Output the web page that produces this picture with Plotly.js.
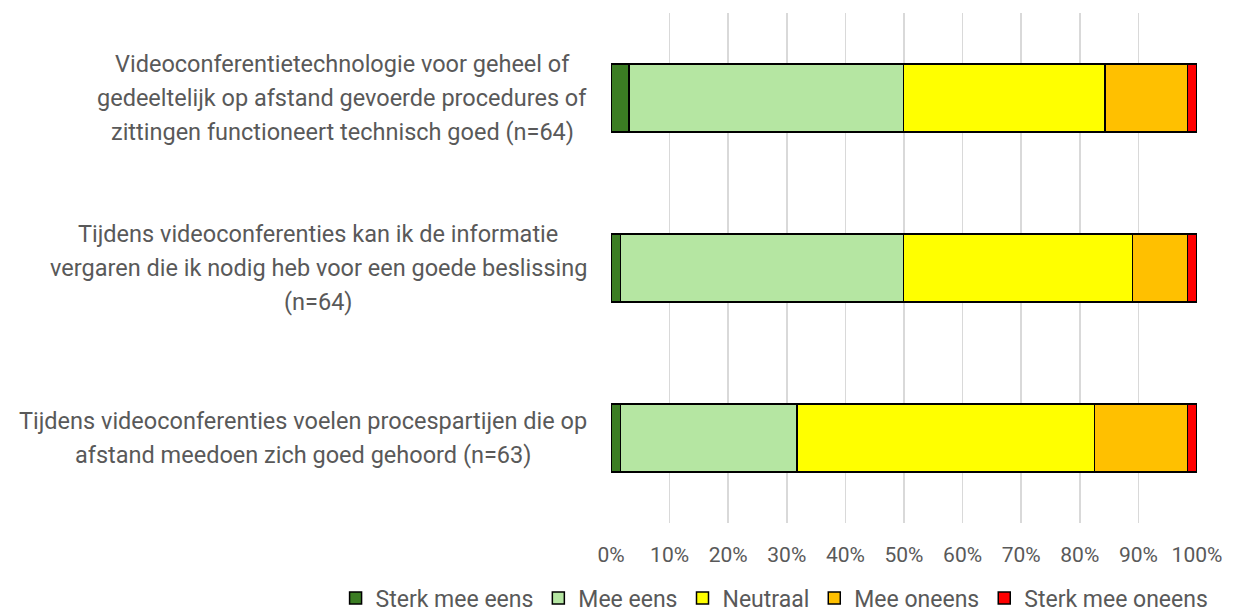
<!DOCTYPE html>
<html>
<head>
<meta charset="utf-8">
<script src="https://cdn.plot.ly/plotly-3.0.1.min.js"></script>
<style>
  html, body { margin: 0; padding: 0; background: #fff; }
  #chart { width: 1236px; height: 613px; }
</style>
</head>
<body>
<div id="chart"></div>
<script>
// statements, top to bottom (lines as in the original)
const statements = [
  ['Videoconferentietechnologie voor geheel of',
   'gedeeltelijk op afstand gevoerde procedures of',
   'zittingen functioneert technisch goed (n=64)'],
  ['Tijdens videoconferenties kan ik de informatie',
   'vergaren die ik nodig heb voor een goede beslissing',
   '(n=64)'],
  ['Tijdens videoconferenties voelen procespartijen die op',
   'afstand meedoen zich goed gehoord (n=63)']
];
const catKeys = ['q1', 'q2', 'q3'];

const seriesNames = ['Sterk mee eens', 'Mee eens', 'Neutraal', 'Mee oneens', 'Sterk mee oneens'];
const seriesColors = ['#3B7D23', '#B5E6A2', '#FFFF00', '#FFC000', '#FF0000'];

// percentages per statement
const sterkMeeEens   = [3.1, 1.6, 1.6];
const meeEens        = [46.9, 48.4, 30.2];
const neutraal       = [34.4, 39.1, 50.8];
const meeOneens      = [14.1, 9.4, 15.9];
const sterkMeeOneens = [1.6, 1.6, 1.6];
const seriesValues = [sterkMeeEens, meeEens, neutraal, meeOneens, sterkMeeOneens];

const tickVals = [0, 10, 20, 30, 40, 50, 60, 70, 80, 90, 100];
const tickText = tickVals.map(v => v + '%');

const FONT = 'Roboto, Arial, sans-serif';
const TXT = '#595959';
const LABEL_SIZE = 23.5;
const LINE_GAP = 34;

const traces = seriesNames.map((name, k) => ({
  type: 'bar',
  orientation: 'h',
  name: name,
  y: catKeys,
  x: seriesValues[k],
  width: 0.4,
  marker: { color: seriesColors[k], line: { color: '#000', width: 1.5 } },
  hoverinfo: 'name+x'
}));

// measure text so each multi-line label is centred within its own block
const ctx = document.createElement('canvas').getContext('2d');
ctx.font = LABEL_SIZE + 'px Roboto';
const plotLeft = 611, plotW = 586, labelRight = 587;

const annotations = [];
statements.forEach((lines, i) => {
  const maxW = Math.max(...lines.map(l => ctx.measureText(l).width));
  const cx = labelRight - maxW / 2;
  lines.forEach((line, j) => {
    annotations.push({
      x: (cx - plotLeft) / plotW,
      y: catKeys[i],
      xref: 'paper',
      yref: 'y',
      xanchor: 'center',
      yanchor: 'middle',
      yshift: -(j - (lines.length - 1) / 2) * LINE_GAP,
      text: line,
      showarrow: false,
      font: { family: FONT, size: LABEL_SIZE, color: TXT }
    });
  });
});

Plotly.newPlot('chart', traces, {
  width: 1236,
  height: 613,
  barmode: 'stack',
  barnorm: 'percent',
  paper_bgcolor: '#fff',
  plot_bgcolor: '#fff',
  margin: { l: 611, r: 39, t: 13, b: 90, autoexpand: false },
  font: { family: FONT, color: TXT },
  xaxis: {
    range: [0, 100],
    tickmode: 'array',
    tickvals: tickVals,
    ticktext: tickText,
    tickfont: { size: 21, color: TXT },
    ticks: 'outside',
    ticklen: 13,
    tickcolor: 'rgba(0,0,0,0)',
    showgrid: true,
    gridcolor: '#d9d9d9',
    gridwidth: 1.5,
    zeroline: false,
    showline: false,
    fixedrange: true
  },
  yaxis: {
    type: 'category',
    categoryorder: 'array',
    categoryarray: catKeys,
    autorange: 'reversed',
    showticklabels: false,
    showgrid: false,
    zeroline: false,
    showline: false,
    fixedrange: true
  },
  showlegend: true,
  legend: {
    orientation: 'h',
    x: -0.47,
    xanchor: 'left',
    y: -0.147,
    yanchor: 'middle',
    traceorder: 'normal',
    font: { size: 23, color: TXT, family: FONT },
    itemwidth: 30
  },
  annotations: annotations
}, { displayModeBar: false, staticPlot: true });
</script>
</body>
</html>
